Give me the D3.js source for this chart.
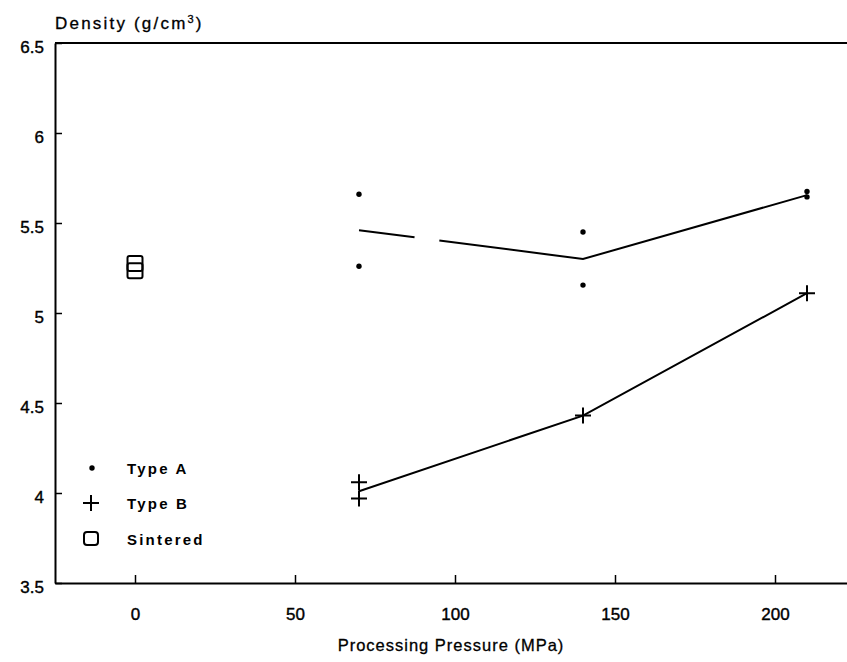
<!DOCTYPE html>
<html>
<head>
<meta charset="utf-8">
<script src="https://cdn.jsdelivr.net/npm/d3@7"></script>
<style>
    body { margin: 0; background: #fff; }
    svg { display: block; font-family: "Liberation Sans", Arial, sans-serif; }
</style>
</head>
<body>
<div id="graph"></div>
<script>
// values
const pressureTicks = [0, 50, 100, 150, 200];
const densityTicks = [3.5, 4, 4.5, 5, 5.5, 6, 6.5];

const typeAPressure = [70, 70, 140, 140, 210, 210];
const typeADensity = [5.66, 5.26, 5.45, 5.155, 5.675, 5.645];
const typeALinePressure = [70, 140, 210];
const typeALineDensity = [5.46, 5.30, 5.655];

const typeBPressure = [70, 70, 140, 210];
const typeBDensity = [4.06, 3.97, 4.43, 5.11];
const typeBLinePressure = [70, 140, 210];
const typeBLineDensity = [4.01, 4.43, 5.11];

const sinteredPressure = [0, 0];
const sinteredDensity = [5.275, 5.235];

const legendLabels = ['Type A', 'Type B', 'Sintered'];

const width = 847;
const height = 662;

const svg = d3.select('#graph')
    .append('svg')
    .attr('width', width)
    .attr('height', height);

const xScale = d3.scaleLinear()
    .domain([-25, 225])
    .range([55, 855]);

const yScale = d3.scaleLinear()
    .domain([3.5, 6.5])
    .range([583, 43]);

// axes, ticks pointing inward
const xAxis = d3.axisBottom(xScale)
    .tickValues(pressureTicks)
    .tickSizeInner(-8)
    .tickSizeOuter(0)
    .tickPadding(25)
    .tickFormat(d3.format('d'));

const xAxisG = svg.append('g')
    .attr('transform', 'translate(0,' + yScale(3.5) + ')')
    .call(xAxis);

const yAxis = d3.axisLeft(yScale)
    .tickValues(densityTicks)
    .tickSizeInner(-7)
    .tickSizeOuter(0)
    .tickPadding(11)
    .tickFormat(d => String(d));

const yAxisG = svg.append('g')
    .attr('transform', 'translate(' + xScale(-25) + ',0)')
    .call(yAxis);

svg.selectAll('.domain').attr('stroke-width', 2);
svg.selectAll('.tick line').attr('stroke-width', 1.5);
svg.selectAll('.tick text')
    .attr('font-size', 17)
    .attr('fill', '#000')
    .attr('stroke', '#000')
    .attr('stroke-width', 0.4);

// y labels sit a bit below their ticks
yAxisG.selectAll('.tick text').attr('dy', '0.55em');

// top frame line
svg.append('line')
    .attr('x1', xScale(-25))
    .attr('x2', xScale(225))
    .attr('y1', yScale(6.5))
    .attr('y2', yScale(6.5))
    .attr('stroke', '#000')
    .attr('stroke-width', 2);

// axis titles
const yTitle = svg.append('text')
    .attr('x', 55)
    .attr('y', 29)
    .attr('font-size', 17)
    .attr('letter-spacing', 2.2)
    .attr('stroke', '#000')
    .attr('stroke-width', 0.3)
    .text('Density (g/cm');
yTitle.append('tspan')
    .attr('dy', -6)
    .attr('font-size', 11)
    .text('3');
yTitle.append('tspan')
    .attr('dy', 6)
    .text(')');

svg.append('text')
    .attr('x', 451)
    .attr('y', 651)
    .attr('text-anchor', 'middle')
    .attr('font-size', 16.5)
    .attr('letter-spacing', 1)
    .attr('stroke', '#000')
    .attr('stroke-width', 0.3)
    .text('Processing Pressure (MPa)');

// lines
const line = d3.line()
    .x(d => xScale(d[0]))
    .y(d => yScale(d[1]));

svg.append('path')
    .datum(d3.zip(typeALinePressure, typeALineDensity))
    .attr('d', line)
    .attr('fill', 'none')
    .attr('stroke', '#000')
    .attr('stroke-width', 2)
    .attr('stroke-dasharray', '56,25,2000');

svg.append('path')
    .datum(d3.zip(typeBLinePressure, typeBLineDensity))
    .attr('d', line)
    .attr('fill', 'none')
    .attr('stroke', '#000')
    .attr('stroke-width', 2);

// markers
function plusPath(s) {
    return 'M' + (-s) + ',0H' + s + 'M0,' + (-s) + 'V' + s;
}

svg.selectAll('.dotA')
    .data(d3.zip(typeAPressure, typeADensity))
    .enter()
    .append('circle')
    .attr('class', 'dotA')
    .attr('cx', d => xScale(d[0]))
    .attr('cy', d => yScale(d[1]))
    .attr('r', 2.7)
    .attr('fill', '#000');

svg.selectAll('.plusB')
    .data(d3.zip(typeBPressure, typeBDensity))
    .enter()
    .append('path')
    .attr('class', 'plusB')
    .attr('transform', d => 'translate(' + xScale(d[0]) + ',' + yScale(d[1]) + ')')
    .attr('d', plusPath(8))
    .attr('stroke', '#000')
    .attr('stroke-width', 2)
    .attr('fill', 'none');

svg.selectAll('.sq')
    .data(d3.zip(sinteredPressure, sinteredDensity))
    .enter()
    .append('rect')
    .attr('class', 'sq')
    .attr('x', d => xScale(d[0]) - 7.5)
    .attr('y', d => yScale(d[1]) - 7.5)
    .attr('width', 15)
    .attr('height', 15)
    .attr('rx', 2)
    .attr('fill', 'none')
    .attr('stroke', '#000')
    .attr('stroke-width', 2);

// legend
const legend = svg.append('g');
const legendY = [468, 503, 539];

legend.append('circle')
    .attr('cx', 92)
    .attr('cy', legendY[0])
    .attr('r', 2.7)
    .attr('fill', '#000');

legend.append('path')
    .attr('transform', 'translate(91,' + legendY[1] + ')')
    .attr('d', plusPath(8))
    .attr('stroke', '#000')
    .attr('stroke-width', 2);

legend.append('rect')
    .attr('x', 84)
    .attr('y', legendY[2] - 7)
    .attr('width', 14)
    .attr('height', 13)
    .attr('rx', 3)
    .attr('fill', 'none')
    .attr('stroke', '#000')
    .attr('stroke-width', 2);

legend.selectAll('.legend-label')
    .data(legendLabels)
    .enter()
    .append('text')
    .attr('class', 'legend-label')
    .attr('x', 127)
    .attr('y', (d, i) => legendY[i] + 5.5)
    .attr('font-size', 15)
    .attr('font-weight', 'bold')
    .attr('letter-spacing', 2.2)
    .text(d => d);
</script>
</body>
</html>
